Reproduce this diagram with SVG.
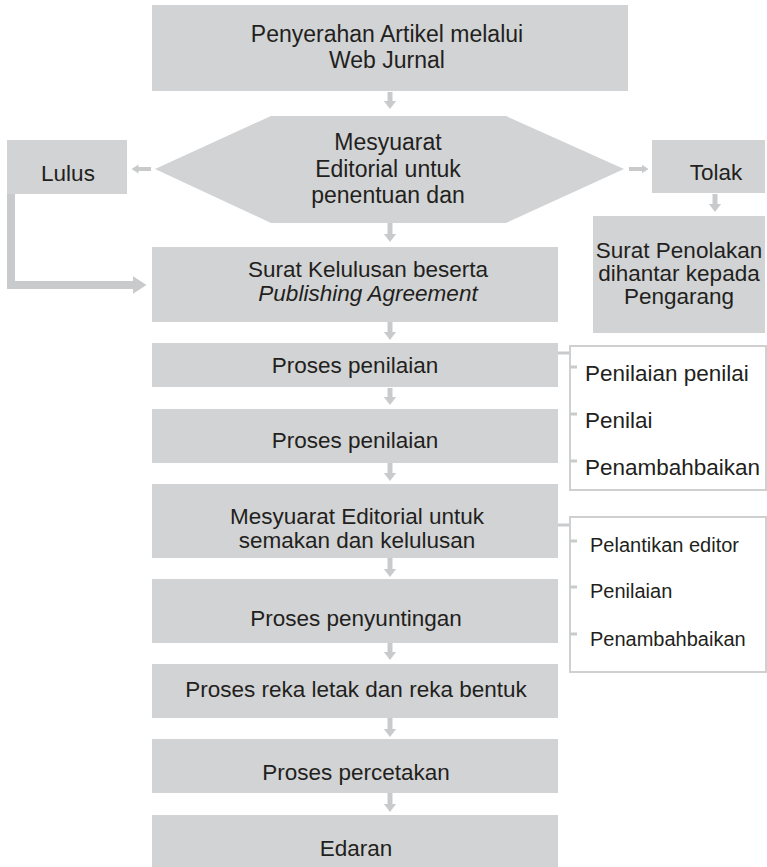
<svg xmlns="http://www.w3.org/2000/svg" width="767" height="867" viewBox="0 0 767 867">
<style>
.box{fill:#d1d3d4}
.t{font-family:"Liberation Sans",Arial,sans-serif;font-size:22.5px;fill:#231f20;text-anchor:middle}
.tl{font-size:23px}
.s{font-family:"Liberation Sans",Arial,sans-serif;font-size:22.5px;fill:#231f20}
.s2{font-family:"Liberation Sans",Arial,sans-serif;font-size:20px;fill:#231f20}
.arr{stroke:#c9cacc;stroke-width:5;fill:none;marker-end:url(#ah)}
.arrS{stroke:#c9cacc;stroke-width:4;fill:none;marker-end:url(#ahS)}
.big{stroke:#c9cacc;stroke-width:8;fill:none;marker-end:url(#ahB)}
.br{fill:none;stroke:#cfd0d2;stroke-width:2}
.tick{stroke:#c9cacc;stroke-width:3}
</style>
<defs>
<marker id="ah" markerUnits="userSpaceOnUse" viewBox="0 -7 9 14" refX="0.5" refY="0" markerWidth="9" markerHeight="14" orient="auto"><path d="M0,-6.5 L8.5,0 L0,6.5 Z" fill="#c9cacc"/></marker>
<marker id="ahS" markerUnits="userSpaceOnUse" viewBox="0 -6 8 12" refX="0.5" refY="0" markerWidth="8" markerHeight="12" orient="auto"><path d="M0,-4.5 L7,0 L0,4.5 Z" fill="#c9cacc"/></marker>
<marker id="ahB" markerUnits="userSpaceOnUse" viewBox="0 -10 15 20" refX="0.5" refY="0" markerWidth="15" markerHeight="20" orient="auto"><path d="M0,-9 L14,0 L0,9 Z" fill="#c9cacc"/></marker>
</defs>

<g id="connectors">
<line class="arr" x1="390" y1="92" x2="390" y2="101"/>
<line class="arr" x1="390" y1="223" x2="390" y2="234"/>
<line class="arr" x1="390" y1="322" x2="390" y2="332"/>
<line class="arr" x1="390" y1="388" x2="390" y2="397"/>
<line class="arr" x1="390" y1="463" x2="390" y2="473"/>
<line class="arr" x1="390" y1="558" x2="390" y2="569"/>
<line class="arr" x1="390" y1="643" x2="390" y2="652"/>
<line class="arr" x1="390" y1="718" x2="390" y2="729"/>
<line class="arr" x1="390" y1="793" x2="390" y2="804"/>
<line class="arr" x1="715" y1="194" x2="715" y2="204"/>
<line class="arrS" x1="151" y1="169" x2="138" y2="169"/>
<line class="arrS" x1="629" y1="169" x2="642" y2="169"/>
<polyline class="big" points="11,193 11,285 133,285"/>
<line class="tick" x1="558" y1="353" x2="570" y2="353"/>
<line class="tick" x1="558" y1="525" x2="570" y2="525"/>
</g>

<g id="n_penyerahan">
<rect class="box" x="152" y="5" width="476" height="86"/>
<text class="t tl" x="387" y="42">Penyerahan Artikel melalui</text>
<text class="t tl" x="387" y="68">Web Jurnal</text>
</g>

<g id="n_mesyuarat1">
<polygon class="box" points="271,116 506,116 624,169 506,223 271,223 155,169"/>
<text class="t tl" x="388" y="150">Mesyuarat</text>
<text class="t tl" x="388" y="177">Editorial untuk</text>
<text class="t tl" x="388" y="203">penentuan dan</text>
</g>

<g id="n_lulus">
<rect class="box" x="7" y="140" width="120" height="54"/>
<text class="t" x="68" y="181">Lulus</text>
</g>

<g id="n_tolak">
<rect class="box" x="652" y="140" width="113" height="53"/>
<text class="t" x="716" y="180">Tolak</text>
</g>

<g id="n_penolakan">
<rect class="box" x="593" y="216" width="172" height="117"/>
<text class="t" x="679" y="258">Surat Penolakan</text>
<text class="t" x="679" y="281">dihantar kepada</text>
<text class="t" x="679" y="304">Pengarang</text>
</g>

<g id="n_kelulusan">
<rect class="box" x="152" y="247" width="406" height="75"/>
<text class="t" x="368" y="277">Surat Kelulusan beserta</text>
<text class="t" x="368" y="301" font-style="italic">Publishing Agreement</text>
</g>

<g id="n_penilaian1">
<rect class="box" x="152" y="343" width="406" height="44"/>
<text class="t" x="355" y="373">Proses penilaian</text>
</g>

<g id="n_penilaian2">
<rect class="box" x="152" y="409" width="406" height="54"/>
<text class="t" x="355" y="448">Proses penilaian</text>
</g>

<g id="n_mesyuarat2">
<rect class="box" x="152" y="484" width="406" height="74"/>
<text class="t" x="357" y="524">Mesyuarat Editorial untuk</text>
<text class="t" x="357" y="548">semakan dan kelulusan</text>
</g>

<g id="n_penyuntingan">
<rect class="box" x="152" y="579" width="406" height="64"/>
<text class="t" x="356" y="626">Proses penyuntingan</text>
</g>

<g id="n_rekaletak">
<rect class="box" x="152" y="664" width="406" height="54"/>
<text class="t" x="356" y="697">Proses reka letak dan reka bentuk</text>
</g>

<g id="n_percetakan">
<rect class="box" x="152" y="739" width="406" height="54"/>
<text class="t" x="356" y="780">Proses percetakan</text>
</g>

<g id="n_edaran">
<rect class="box" x="152" y="815" width="406" height="52"/>
<text class="t" x="356" y="856">Edaran</text>
</g>

<g id="n_bracket1">
<rect class="br" x="570" y="346" width="196" height="144"/>
<line class="tick" x1="570" y1="367" x2="577" y2="367"/>
<line class="tick" x1="570" y1="414" x2="577" y2="414"/>
<line class="tick" x1="570" y1="461" x2="577" y2="461"/>
<text class="s" x="585" y="381">Penilaian penilai</text>
<text class="s" x="585" y="428">Penilai</text>
<text class="s" x="585" y="475">Penambahbaikan</text>
</g>

<g id="n_bracket2">
<rect class="br" x="570" y="517" width="196" height="155"/>
<line class="tick" x1="570" y1="541" x2="577" y2="541"/>
<line class="tick" x1="570" y1="587" x2="577" y2="587"/>
<line class="tick" x1="570" y1="634" x2="577" y2="634"/>
<text class="s2" x="590" y="552">Pelantikan editor</text>
<text class="s2" x="590" y="598">Penilaian</text>
<text class="s2" x="590" y="646">Penambahbaikan</text>
</g>
</svg>
